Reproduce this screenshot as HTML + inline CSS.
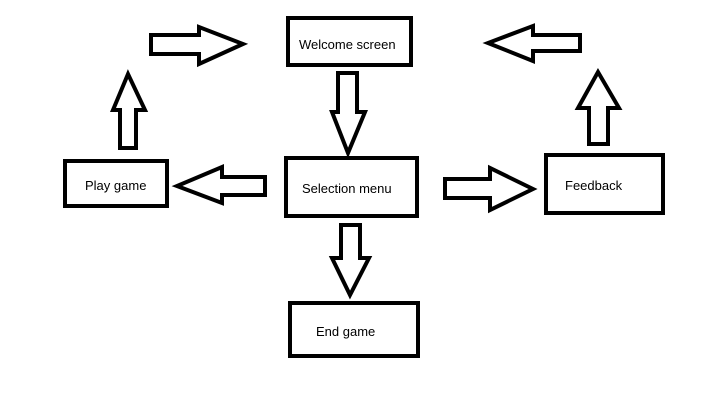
<!DOCTYPE html>
<html><head><style>html,body{margin:0;padding:0;background:#fff;}svg{display:block}</style></head>
<body>
<svg width="713" height="404" xmlns="http://www.w3.org/2000/svg">
<rect width="713" height="404" fill="#fff"/>
<g fill="none" stroke="#000" stroke-width="4" stroke-linejoin="miter">
<rect x="288" y="18" width="123" height="47"/>
<rect x="286" y="158" width="131" height="58"/>
<rect x="65" y="161" width="102" height="45"/>
<rect x="546" y="155" width="117" height="58"/>
<rect x="290" y="303" width="128" height="53"/>
<polygon points="151,35 199,35 199,27 243,44 199,64 199,54 151,54"/>
<polygon points="338,73 357,73 357,112 365,112 348,153 332,112 338,112"/>
<polygon points="265,177 222,177 222,167 177,186 222,203 222,195 265,195"/>
<polygon points="580,35 533,35 533,26 488,43 533,61 533,51 580,51"/>
<polygon points="589,144 608,144 608,108 619,108 598,72 578,108 589,108"/>
<polygon points="445,179 490,179 490,168 533,189 490,210 490,198 445,198"/>
<polygon points="120,148 136,148 136,110 145,110 128,74 113,110 120,110"/>
<polygon points="341,225 360,225 360,258 369,258 350,295 332,258 341,258"/>
</g>
<g font-family="Liberation Sans, sans-serif" font-size="13" fill="#000">
<text x="299" y="49">Welcome screen</text>
<text x="302" y="193">Selection menu</text>
<text x="85" y="190">Play game</text>
<text x="565" y="190">Feedback</text>
<text x="316" y="336">End game</text>
</g>
</svg>
</body></html>
